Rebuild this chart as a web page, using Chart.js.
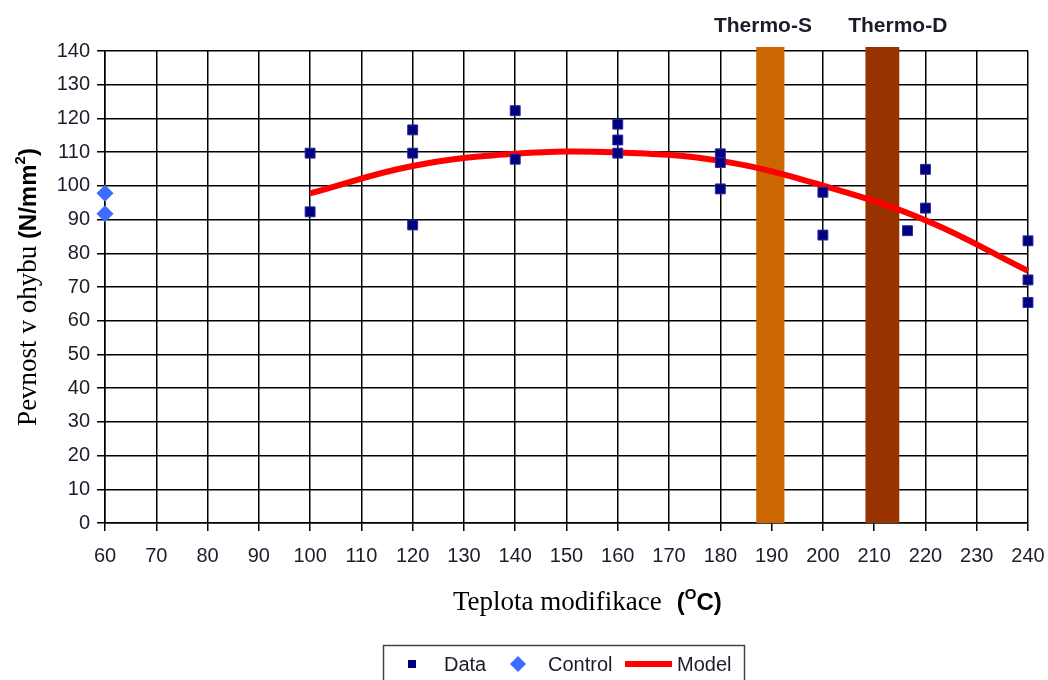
<!DOCTYPE html>
<html>
<head>
<meta charset="utf-8">
<script src="https://cdn.jsdelivr.net/npm/chart.js@4.4.0/dist/chart.umd.min.js"></script>
<style>
  html, body { margin: 0; padding: 0; background: #fff; }
</style>
</head>
<body>
<canvas id="chart" width="1048" height="680"></canvas>
<script>
// measured samples: modification temperature (°C) vs bending strength (N/mm2)
const dataX = [100, 100, 120, 120, 120, 140, 140, 160, 160, 160, 180, 180, 180, 200, 200, 216.5, 220, 220, 240, 240, 240];
const dataY = [109.7, 92.3, 116.6, 109.7, 88.4, 122.3, 107.9, 118.3, 113.6, 109.7, 109.5, 106.9, 99.1, 98.1, 85.4, 86.7, 104.9, 93.4, 83.7, 72.1, 65.4];

// untreated control
const controlX = [60, 60];
const controlY = [97.8, 91.7];

// fitted model curve
const modelX = [100, 120, 140, 160, 180, 200, 220, 240];
const modelY = [97.8, 105.9, 109.5, 109.9, 107.4, 100.1, 89.8, 74.8];

// industrial process bands
const bandNames = ["Thermo-S", "Thermo-D"];
const bandFrom = [187, 208.3];
const bandTo = [192.5, 214.9];
const bandLabelAt = [188.3, 214.6];
const bandColors = ["#CC6600", "#983300"];

const xMin = 60, xMax = 240, xStep = 10;
const yMin = 0, yMax = 140, yStep = 10;

const sans = '"Liberation Sans", Arial, sans-serif';
const serif = '"Liberation Serif", "Times New Roman", serif';
const textColor = "#1c1c2c";

function pairs(xs, ys) {
  return xs.map((x, i) => ({ x: x, y: ys[i] }));
}

// draws the vertical process bands and their labels
const bandsPlugin = {
  id: "bands",
  beforeDatasetsDraw(chart) {
    const { ctx, chartArea, scales } = chart;
    ctx.save();
    for (let i = 0; i < bandNames.length; i++) {
      const x1 = scales.x.getPixelForValue(bandFrom[i]);
      const x2 = scales.x.getPixelForValue(bandTo[i]);
      ctx.fillStyle = bandColors[i];
      ctx.fillRect(x1, chartArea.top - 4, x2 - x1, chartArea.bottom - chartArea.top + 4);
      ctx.fillStyle = textColor;
      ctx.font = "bold 21px " + sans;
      ctx.textAlign = "center";
      ctx.textBaseline = "alphabetic";
      ctx.fillText(bandNames[i], scales.x.getPixelForValue(bandLabelAt[i]), 32);
    }
    ctx.restore();
  }
};

// text made of pieces in different fonts (with superscripts)
function drawPieces(ctx, pieces, x, y) {
  let cx = x;
  pieces.forEach(p => {
    if (p.gap) { cx += p.gap; return; }
    ctx.font = p.font;
    ctx.fillText(p.t, cx, y + (p.dy || 0));
    cx += ctx.measureText(p.t).width;
  });
}
function piecesWidth(ctx, pieces) {
  let w = 0;
  pieces.forEach(p => {
    if (p.gap) { w += p.gap; return; }
    ctx.font = p.font;
    w += ctx.measureText(p.t).width;
  });
  return w;
}

const titlesPlugin = {
  id: "titles",
  afterDraw(chart) {
    const { ctx, chartArea } = chart;
    ctx.save();
    ctx.fillStyle = "#000";
    ctx.textAlign = "left";
    ctx.textBaseline = "alphabetic";

    const xTitle = [
      { t: "Teplota modifikace", font: "27px " + serif },
      { gap: 15 },
      { t: "(", font: "bold 24px " + sans },
      { t: "O", font: "bold 15px " + sans, dy: -11 },
      { t: "C)", font: "bold 24px " + sans }
    ];
    drawPieces(ctx, xTitle, 453, 610);

    const yTitle = [
      { t: "Pevnost v ohybu ", font: "27px " + serif },
      { t: "(N/mm", font: "bold 24px " + sans },
      { t: "2", font: "bold 15px " + sans, dy: -11 },
      { t: ")", font: "bold 24px " + sans }
    ];
    const w = piecesWidth(ctx, yTitle);
    const cy = (chartArea.top + chartArea.bottom) / 2;
    ctx.translate(36, cy);
    ctx.rotate(-Math.PI / 2);
    drawPieces(ctx, yTitle, -w / 2, 0);
    ctx.restore();

    // legend box
    const ds = chart.data.datasets;
    ctx.save();
    ctx.strokeStyle = "#444";
    ctx.lineWidth = 1.5;
    ctx.strokeRect(383.5, 645.5, 361, 50);
    const ly = 664;
    ctx.fillStyle = "#000080";
    ctx.fillRect(408, ly - 4, 8, 8);
    ctx.fillStyle = "#3d6cff";
    ctx.beginPath();
    ctx.moveTo(518, ly - 8); ctx.lineTo(526, ly); ctx.lineTo(518, ly + 8); ctx.lineTo(510, ly);
    ctx.closePath();
    ctx.fill();
    ctx.strokeStyle = "#ff0000";
    ctx.lineWidth = 6;
    ctx.beginPath();
    ctx.moveTo(625, ly); ctx.lineTo(672, ly);
    ctx.stroke();
    ctx.fillStyle = textColor;
    ctx.font = "20px " + sans;
    ctx.textBaseline = "middle";
    ctx.fillText(ds[0].label, 444, ly + 1);
    ctx.fillText(ds[1].label, 548, ly + 1);
    ctx.fillText(ds[2].label, 677, ly + 1);
    ctx.restore();
  }
};

const ctx = document.getElementById("chart").getContext("2d");
const chart = new Chart(ctx, {
  type: "scatter",
  data: {
    datasets: [
      {
        label: "Data",
        data: pairs(dataX, dataY),
        pointStyle: "rect",
        pointRadius: 7,
        backgroundColor: "#000080",
        borderColor: "#2a2a9a",
        borderWidth: 1,
        clip: false
      },
      {
        label: "Control",
        data: pairs(controlX, controlY),
        pointStyle: "rectRot",
        pointRadius: 8.5,
        backgroundColor: "#3d6cff",
        borderColor: "#3d6cff",
        borderWidth: 0,
        clip: false
      },
      {
        label: "Model",
        type: "line",
        data: pairs(modelX, modelY),
        showLine: true,
        borderColor: "#ff0000",
        borderWidth: 6,
        pointRadius: 0,
        tension: 0.4,
        fill: false,
        clip: false
      }
    ]
  },
  options: {
    responsive: false,
    animation: false,
    layout: { padding: { top: 51, right: 20, left: 0, bottom: 0 } },
    plugins: {
      legend: { display: false },
      tooltip: { enabled: false }
    },
    scales: {
      x: {
        type: "linear",
        min: xMin,
        max: xMax,
        ticks: { stepSize: xStep, color: textColor, font: { family: sans, size: 20 }, padding: 13, maxRotation: 0 },
        grid: { color: "#000", lineWidth: 1.5, tickLength: 8 },
        border: { color: "#000", width: 1.5 },
        afterFit(scale) {
          scale.height = 680 - 523;
          scale.paddingRight = 0;
          scale.paddingLeft = 0;
        }
      },
      y: {
        min: yMin,
        max: yMax,
        ticks: { stepSize: yStep, color: textColor, font: { family: sans, size: 20 }, padding: 7 },
        grid: { color: "#000", lineWidth: 1.5, tickLength: 8 },
        border: { color: "#000", width: 1.5 },
        afterFit(scale) {
          scale.width = 105;
          scale.paddingTop = 0;
          scale.paddingBottom = 0;
        }
      }
    }
  },
  plugins: [bandsPlugin, titlesPlugin]
});
</script>
</body>
</html>
